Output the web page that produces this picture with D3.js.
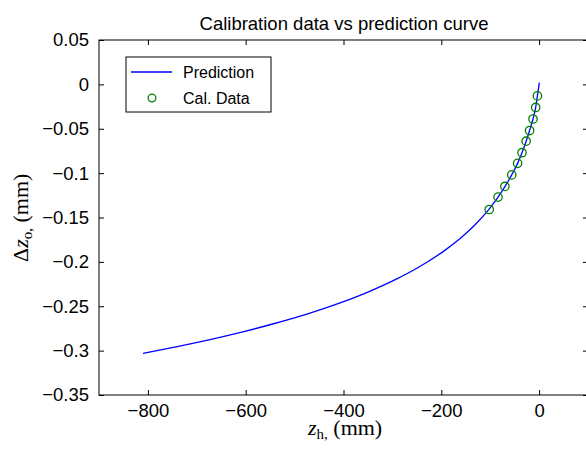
<!DOCTYPE html>
<html>
<head>
<meta charset="utf-8">
<script src="https://cdn.jsdelivr.net/npm/d3@7"></script>
<style>
    body { margin: 0; background: #fff; }
    svg { display: block; }
    .tick text { font-family: "Liberation Sans", Arial, sans-serif; font-size: 18.5px; fill: #000; }
    .title { font-family: "Liberation Sans", Arial, sans-serif; font-size: 18.5px; }
    .legendText { font-family: "Liberation Sans", Arial, sans-serif; font-size: 16px; }
    .axisLabel { font-family: "Liberation Serif", "Times New Roman", serif; font-size: 22px; }
</style>
</head>
<body>
<svg id="chart"></svg>
<script>
// prediction curve
const predX = [-810, -740, -680, -610, -545, -475, -407, -350, -291, -250, -190, -155, -130, -103, -85, -70, -56, -44, -35, -26.5, -19.5, -12.5, -7, -3.5, 0.5];
const predY = [-0.303, -0.2955, -0.2885, -0.2795, -0.270, -0.2588, -0.2462, -0.234, -0.2192, -0.2072, -0.1859, -0.1706, -0.1576, -0.1411, -0.128, -0.1153, -0.102, -0.089, -0.077, -0.064, -0.052, -0.039, -0.026, -0.013, 0.002];

// calibration points
const calX = [-102, -84, -70, -56, -44, -35, -26.5, -19.5, -12.5, -7, -3.5];
const calY = [-0.141, -0.127, -0.115, -0.102, -0.089, -0.077, -0.064, -0.052, -0.039, -0.026, -0.013];

const xTicks = [-800, -600, -400, -200, 0];
const yTicks = [0.05, 0, -0.05, -0.1, -0.15, -0.2, -0.25, -0.3, -0.35];

const width = 586, height = 450;
const margin = { top: 40, left: 99 };
const plotW = 489, plotH = 355;

const svg = d3.select('#chart')
    .attr('width', width)
    .attr('height', height);

const chart = svg.append('g')
    .attr('transform', `translate(${margin.left},${margin.top})`);

const xScale = d3.scaleLinear().domain([-900, 100]).range([0, plotW]);
const yScale = d3.scaleLinear().domain([-0.35, 0.05]).range([plotH, 0]);

const fmt = d => String(+d.toFixed(2)).replace('-', '\u2212');

// axes, ticks pointing inward like matlab
chart.append('g')
    .attr('class', 'axis x-axis')
    .attr('transform', `translate(0,${plotH})`)
    .call(d3.axisBottom(xScale).tickValues(xTicks).tickFormat(fmt).tickSizeInner(-5).tickSizeOuter(0).tickPadding(9));

chart.append('g')
    .attr('class', 'axis y-axis')
    .call(d3.axisLeft(yScale).tickValues(yTicks).tickFormat(fmt).tickSizeInner(-5).tickSizeOuter(0).tickPadding(10));

chart.append('g')
    .call(d3.axisTop(xScale).tickValues(xTicks).tickFormat('').tickSizeInner(-5).tickSizeOuter(0));

chart.append('g')
    .attr('transform', `translate(${plotW},0)`)
    .call(d3.axisRight(yScale).tickValues(yTicks).tickFormat('').tickSizeInner(-5).tickSizeOuter(0));

chart.selectAll('.domain').remove();
chart.selectAll('.tick line').attr('stroke', '#000');

chart.append('rect')
    .attr('width', plotW)
    .attr('height', plotH)
    .attr('fill', 'none')
    .attr('stroke', '#000');

const pred = predX.map((x, i) => ({ x: x, y: predY[i] }));
const cal = calX.map((x, i) => ({ x: x, y: calY[i] }));

const line = d3.line()
    .x(d => xScale(d.x))
    .y(d => yScale(d.y))
    .curve(d3.curveMonotoneX);

chart.append('path')
    .datum(pred)
    .attr('d', line)
    .attr('fill', 'none')
    .attr('stroke', '#0000ff')
    .attr('stroke-width', 1.3);

chart.selectAll('.cal')
    .data(cal)
    .join('circle')
    .attr('class', 'cal')
    .attr('cx', d => xScale(d.x))
    .attr('cy', d => yScale(d.y))
    .attr('r', 4.2)
    .attr('fill', 'none')
    .attr('stroke', '#008000')
    .attr('stroke-width', 1.3);

// title
svg.append('text')
    .attr('class', 'title')
    .attr('x', 344)
    .attr('y', 30)
    .attr('text-anchor', 'middle')
    .text('Calibration data vs prediction curve');

// legend
const legend = svg.append('g').attr('transform', 'translate(126,57)');
legend.append('rect')
    .attr('width', 145)
    .attr('height', 55)
    .attr('fill', '#fff')
    .attr('stroke', '#000');
legend.append('line')
    .attr('x1', 5).attr('x2', 46)
    .attr('y1', 15).attr('y2', 15)
    .attr('stroke', '#0000ff')
    .attr('stroke-width', 1.3);
legend.append('circle')
    .attr('cx', 26).attr('cy', 41)
    .attr('r', 3.8)
    .attr('fill', 'none')
    .attr('stroke', '#008000')
    .attr('stroke-width', 1.3);
legend.append('text')
    .attr('class', 'legendText')
    .attr('x', 57).attr('y', 21)
    .text('Prediction');
legend.append('text')
    .attr('class', 'legendText')
    .attr('x', 57).attr('y', 47)
    .text('Cal. Data');

// x label: z_h, (mm)
const xl = svg.append('text')
    .attr('class', 'axisLabel')
    .attr('x', 308)
    .attr('y', 435);
xl.append('tspan').attr('font-style', 'italic').text('z');
xl.append('tspan').attr('font-size', '15px').attr('dy', 4).text('h,');
xl.append('tspan').attr('dy', -4).text(' (mm)');

// y label: Δz_o, (mm)
const yl = svg.append('text')
    .attr('class', 'axisLabel')
    .attr('transform', 'translate(28,262) rotate(-90)');
yl.append('tspan').text('\u0394');
yl.append('tspan').attr('font-style', 'italic').text('z');
yl.append('tspan').attr('font-size', '15px').attr('dy', 4).text('o,');
yl.append('tspan').attr('dy', -4).text(' (mm)');
</script>
</body>
</html>
